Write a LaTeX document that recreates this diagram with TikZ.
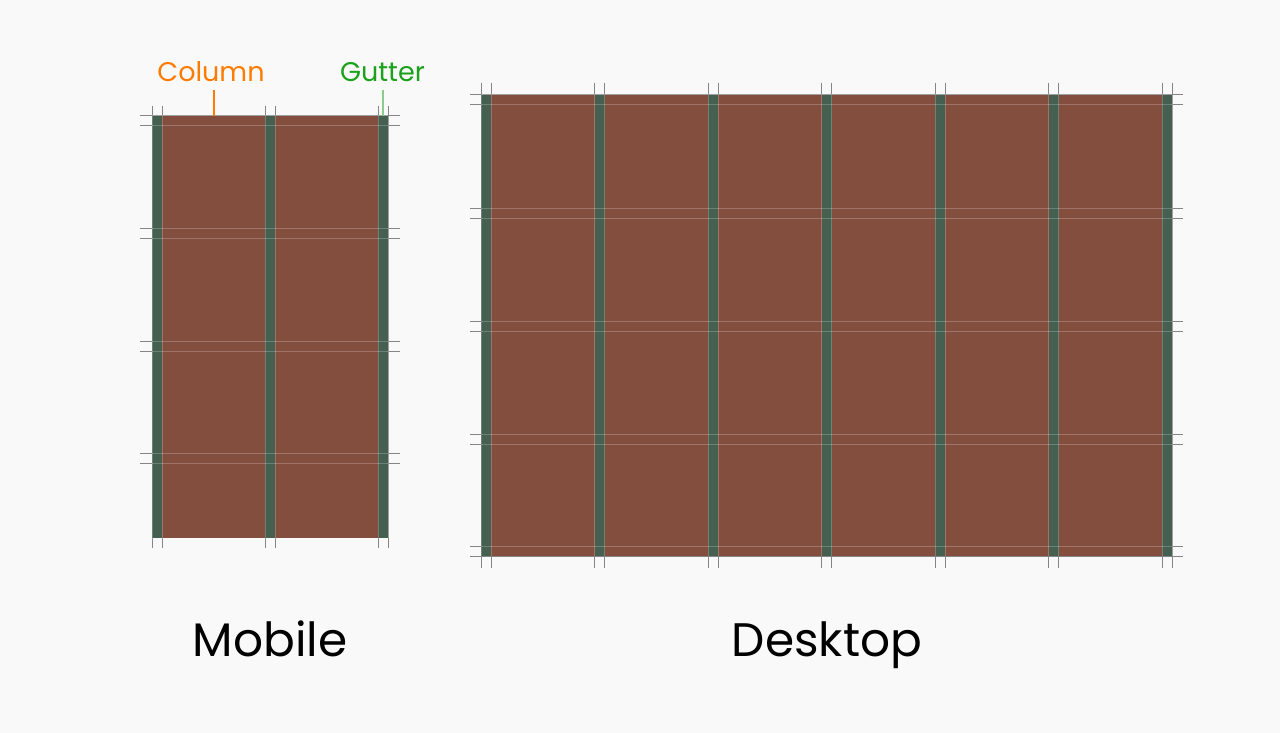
\documentclass[tikz,border=0pt]{standalone}
\usepackage{fontspec}
\setmainfont{Poppins}
\definecolor{bg}{HTML}{F9F9F9}
\definecolor{colbrown}{HTML}{834E3E}
\definecolor{gutgreen}{HTML}{455F50}
\definecolor{tickgray}{HTML}{858585}
\definecolor{lblorange}{HTML}{FF7B00}
\definecolor{lblgreen}{HTML}{1BA11B}
\definecolor{leadgreen}{HTML}{8CCB8C}
\begin{document}
\begin{tikzpicture}[x=1pt,y=-1pt,
  tick/.style={draw=tickgray,line width=1pt},
  inner/.style={draw=white,draw opacity=0.22,line width=1pt},
  bigtitle/.style={font=\fontsize{47}{50}\selectfont,text=black,anchor=base,inner sep=0pt},
  smalltitle/.style={font=\fontsize{27}{30}\selectfont,anchor=base,inner sep=0pt}]
\fill[bg] (0,0) rectangle (1280,733);
\useasboundingbox (0,0) rectangle (1280,733);
% ---------- Mobile ----------
\foreach \g in {152,265,378}{
  \draw[tick] (\g,106) -- (\g,548);
  \draw[tick] (\g+10,106) -- (\g+10,548);
}
\foreach \h in {116,228.5,341,453}{
  \draw[tick] (140,\h) -- (400,\h);
  \draw[tick] (140,\h+10) -- (400,\h+10);
}
\fill[colbrown] (152,116) rectangle (388,538);
\foreach \g in {152,265,378}{
  \fill[gutgreen] (\g,116) rectangle (\g+10,538);
  \draw[inner] (\g,116) -- (\g,538);
  \draw[inner] (\g+10,116) -- (\g+10,538);
}
\foreach \h in {116,228.5,341,453}{
  \draw[inner] (152,\h) -- (388,\h);
  \draw[inner] (152,\h+10) -- (388,\h+10);
}
\draw[inner] (152,538) -- (388,538);
% ---------- Desktop ----------
\foreach \g in {481,594.5,708,821.5,935,1048.5,1162}{
  \draw[tick] (\g,83) -- (\g,568);
  \draw[tick] (\g+10,83) -- (\g+10,568);
}
\foreach \h in {95,208,321,434,546}{
  \draw[tick] (470,\h) -- (1183,\h);
  \draw[tick] (470,\h+10) -- (1183,\h+10);
}
\fill[colbrown] (481,95) rectangle (1172,556);
\foreach \g in {481,594.5,708,821.5,935,1048.5,1162}{
  \fill[gutgreen] (\g,95) rectangle (\g+10,556);
  \draw[inner] (\g,95) -- (\g,556);
  \draw[inner] (\g+10,95) -- (\g+10,556);
}
\foreach \h in {95,208,321,434,546}{
  \draw[inner] (481,\h) -- (1172,\h);
}
\foreach \h in {105,218,331,444}{
  \draw[inner] (481,\h) -- (1172,\h);
}
\draw[tick] (481,556) -- (1172,556);
% ---------- Labels ----------
\node[smalltitle,text=lblorange] (column) at (211,82) {Column};
\node[smalltitle,text=lblgreen] (gutter) at (382.5,82) {Gutter};
\coordinate (colend) at (214,116);
\coordinate (gutend) at (383,116);
\draw[lblorange,line width=1.3pt] (colend |- 0,90) -- (colend);
\draw[leadgreen,line width=1.3pt] (gutend |- 0,90) -- (gutend);
\node[bigtitle] (mobile) at (270,656) {Mobile};
\node[bigtitle] (desktop) at (827,656) {Desktop};
\end{tikzpicture}
\end{document}
